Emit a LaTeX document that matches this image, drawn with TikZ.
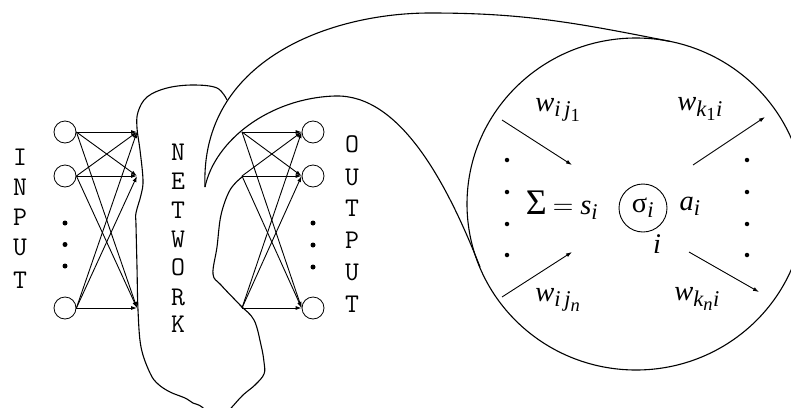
\RequirePackage{fix-cm}
\documentclass[tikz,border=0pt]{standalone}
\usepackage{amsmath}
\usepackage{fontspec}
\setmainfont{Liberation Serif}
\usetikzlibrary{arrows.meta}
\DeclareMathSizes{28.5}{28.5}{22.5}{18.5}
\newcommand{\mi}[1]{\textit{#1}}
\begin{document}
\begin{tikzpicture}[x=1pt,y=-1pt, line width=1.1pt,
  neuron/.style={circle,draw,minimum size=22pt,inner sep=0pt,line width=0.8pt},
  lett/.style={font=\fontsize{27}{30}\ttfamily, inner sep=0pt},
  lbl/.style={font=\fontsize{28.5}{32}\selectfont, inner sep=0pt},
  conn/.style={-{Latex[length=6pt,width=4pt]}, line width=0.9pt},
  dot/.style={circle,fill,inner sep=0pt,minimum size=5pt},
  sdot/.style={circle,fill,inner sep=0pt,minimum size=4.5pt},
  outline/.style={line width=1.1pt}]
\fill[white] (0,0) rectangle (791,407);
\useasboundingbox (0,0) rectangle (791,407);

% ---------- input layer ----------
\node[neuron] (in1) at (65,132) {};
\node[neuron] (in2) at (65,176) {};
\node[neuron] (in3) at (65,308) {};
\coordinate (nt1) at (137,132);
\coordinate (nt2) at (137,176);
\coordinate (nt3) at (137,308);
\foreach \a in {1,2,3}{\foreach \b in {1,2,3}{\draw[conn] (in\a.east) -- (nt\b);}}
\node[dot] (id1) at (65,223) {};
\node[dot] (id2) at (65,244.5) {};
\node[dot] (id3) at (65,266) {};

\node[lett] (inI)  at (20,157) {I};
\node[lett] (inN)  at (20,187) {N};
\node[lett] (inP)  at (20,217) {P};
\node[lett] (inU)  at (20,247.5) {U};
\node[lett] (inT)  at (20,280) {T};

% ---------- network blob ----------
\draw[outline] plot[smooth, tension=0.6] coordinates {
 (242,177) (230,190) (221,215) (217,247) (213,274) (221,285) (240,305)
 (254,320) (261,345) (264,362) (264,374) (255,385) (243,395) (232,407)
 (218,422) (202,407) (193,403) (185,398) (170,392)
 (158,384) (150,373) (141,347) (138,310) (137,267) (136,225)
 (136,213) (141,195) (143,180) (140,150) (137,128) (138,112) (147,97)
 (167,88) (193,85) (217,88) (227,100)};

\node[lett] (nN) at (178,152) {N};
\node[lett] (nE) at (178,181) {E};
\node[lett] (nT) at (178,210) {T};
\node[lett] (nW) at (178,239) {W};
\node[lett] (nO) at (178,267.5) {O};
\node[lett] (nR) at (178,297.5) {R};
\node[lett] (nK) at (178,324) {K};

% ---------- output layer ----------
\coordinate (ns1) at (242,132);
\coordinate (ns2) at (242,176);
\coordinate (ns3) at (242,308);
\node[neuron] (out1) at (313,132) {};
\node[neuron] (out2) at (313,176) {};
\node[neuron] (out3) at (313,308) {};
\foreach \a in {1,2,3}{\foreach \b in {1,2,3}{\draw[conn] (ns\a) -- (out\b.west);}}
\node[dot] (od1) at (313,223) {};
\node[dot] (od2) at (313,245) {};
\node[dot] (od3) at (313,267) {};

\node[lett] (oO1) at (352,144) {O};
\node[lett] (oU1) at (352,177.5) {U};
\node[lett] (oT1) at (352,208) {T};
\node[lett] (oP)  at (352,240.5) {P};
\node[lett] (oU2) at (352,272.5) {U};
\node[lett] (oT2) at (352,304) {T};

% ---------- callout ----------
\draw[outline] (205,187) .. controls (200,60) and (330,13) .. (430,13)
               .. controls (520,13) and (570,21.4) .. (670,41.4);
\draw[outline] (205,187) .. controls (215,140) and (270,98) .. (335,96)
               .. controls (400,94) and (447,183) .. (480,267);
\draw[outline] (636,204) ellipse [x radius=169pt, y radius=166pt];

% ---------- neuron detail ----------
\node[lbl] (wij1) at (558,110) {$\mi{w}_{\mi{i}\,\mi{j}_{\text{1}}}$};
\node[lbl] (wk1i) at (700,109) {$\mi{w}_{\mi{k}_{\text{1}}\mi{i}}$};
\node[lbl] (wijn) at (558,300) {$\mi{w}_{\mi{i}\,\mi{j}_{\mi{n}}}$};
\node[lbl] (wkni) at (697,299) {$\mi{w}_{\mi{k}_{\mi{n}}\mi{i}}$};
\node[lbl] (sum)  at (562,205) {{\fontsize{36}{40}\selectfont Σ}\hspace{6pt}$=$\hspace{7pt}$\mi{s}_{\mi{i}}$};
\node[circle,draw,minimum size=48pt,inner sep=0pt,line width=0.9pt,
      font=\fontsize{28.5}{32}\selectfont] (sig) at (643,208) {σ$_{\mi{i}}$};
\node[lbl] (ai)   at (690,206) {$\mi{a}_{\mi{i}}$};
\node[lbl] (ilab) at (657,244) {\mi{i}};

\coordinate (a1s) at (502,120); \coordinate (a1e) at (572,165);
\coordinate (a2s) at (693,165); \coordinate (a2e) at (765,117);
\coordinate (a3s) at (502,297); \coordinate (a3e) at (572,252);
\coordinate (a4s) at (689,252); \coordinate (a4e) at (759,292);
\draw[conn] (a1s) -- (a1e);
\draw[conn] (a2s) -- (a2e);
\draw[conn] (a3s) -- (a3e);
\draw[conn] (a4s) -- (a4e);

\foreach \y [count=\k] in {160,192,224,255}{
  \node[sdot] (ld\k) at (507,\y) {};
  \node[sdot] (rd\k) at (747,\y) {};
}
\end{tikzpicture}
\end{document}
